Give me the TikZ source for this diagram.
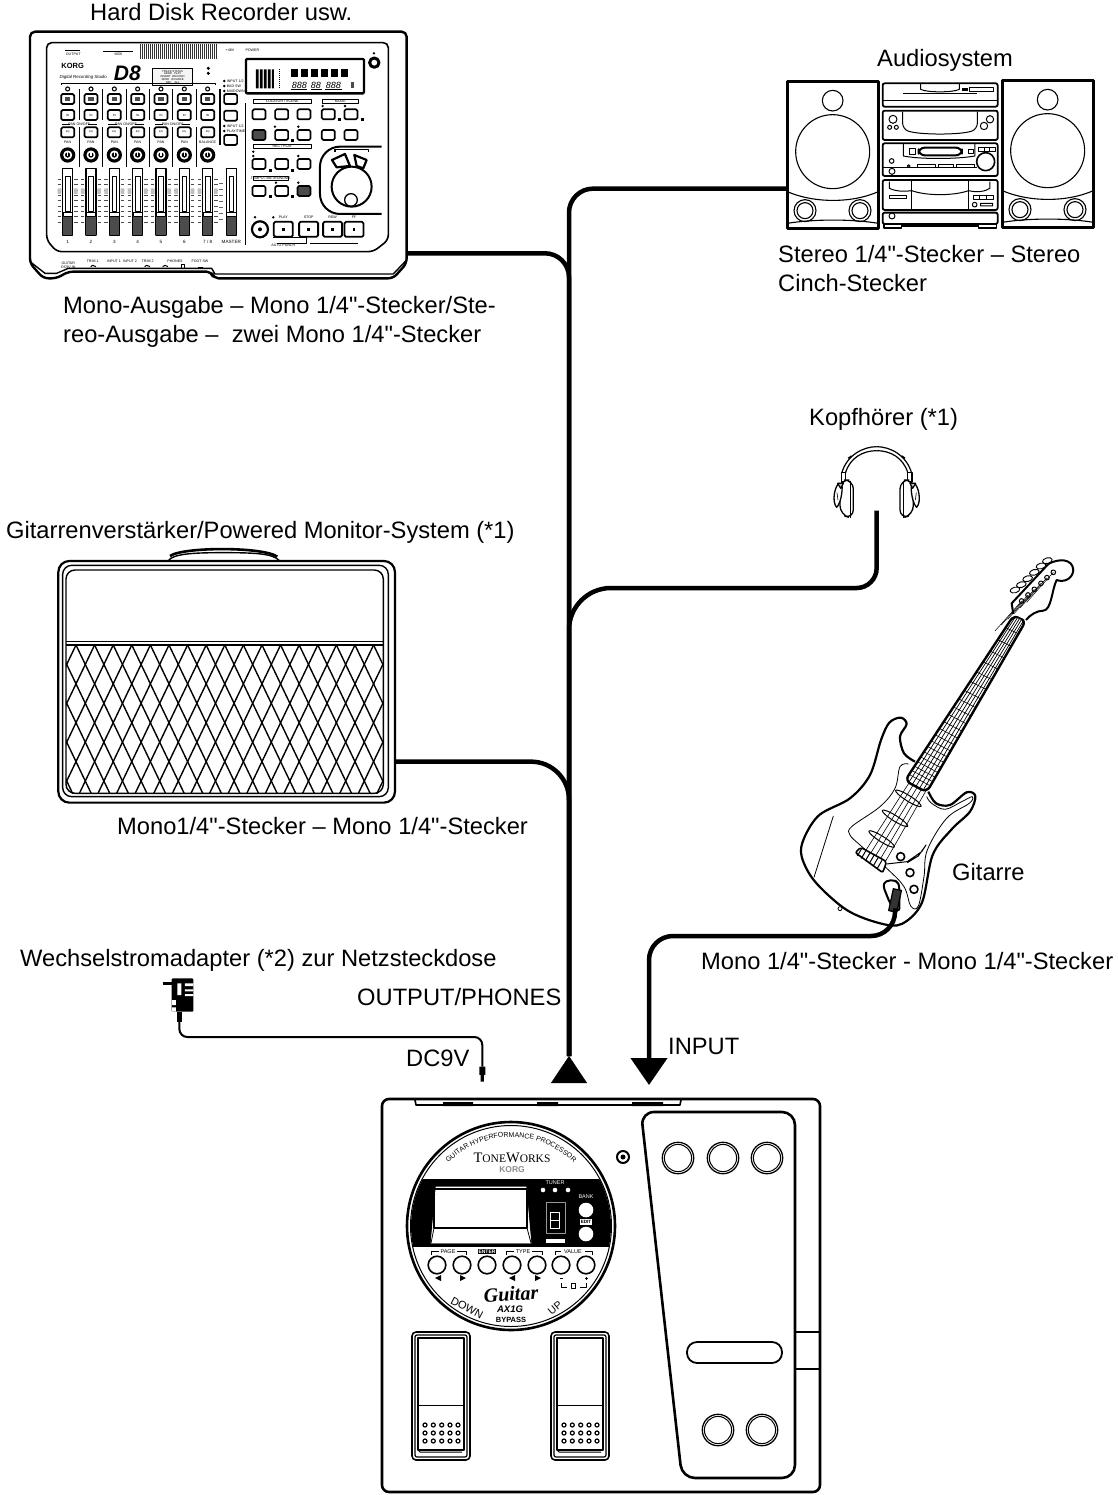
\documentclass[tikz,border=0pt]{standalone}
\usepackage{fontspec}
\setmainfont{Liberation Sans}[Ligatures=TeXOff]
\newfontfamily\timesface{Liberation Serif}
\usepackage{tikz}
\usetikzlibrary{calc}
\usetikzlibrary{positioning}
\usetikzlibrary{arrows.meta}
\usetikzlibrary{decorations.text}
\newcommand{\pts}[1]{\fontsize{#1}{#1}\selectfont}
\begin{document}
\begin{tikzpicture}[x=1pt, y=-1pt, line join=round, font=\fontsize{23.7}{29}\selectfont]
	\tikzstyle{lbl}=[anchor=base west, inner sep=0pt]
	\tikzstyle{cable}=[line width=4.5pt, rounded corners=24pt]
	\tikzstyle{thincable}=[line width=2pt, rounded corners=8pt]
	\tikzstyle{zoomed}=[x=0.3333pt, y=-0.3333pt]
	\tikzstyle{mini}=[inner sep=0pt, font=\pts{3.6}]
	\tikzstyle{key}=[draw, line width=1.7pt, fill=white, rounded corners=1.5pt, minimum width=13pt, minimum height=10pt, inner sep=0pt]
	\tikzstyle{darkkey}=[key, fill=black!70]
	\useasboundingbox (0,0) rectangle (1117,1495);

	% recorder
	\begin{scope}[shift={(20,20)}, zoomed]
		\draw[line width=2.4pt, rounded corners=5pt] (30,730) -- (30,35) -- (1160,35) -- (1160,730) -- (1120,775) -- (580,775) -- (575,755) -- (145,755) -- (110,775) -- (70,775) -- cycle;
		\draw[line width=1.4pt] (30,700) -- (30,725) -- (75,760) -- (110,760) -- (145,745) -- (575,745) -- (585,762) -- (1120,762) -- (1160,720);
		\draw[line width=1.6pt, rounded corners=5pt] (80,68) -- (1105,68) -- (1105,660) -- (1060,695) -- (110,695) -- (80,660) -- cycle;
		\foreach \x in {362,368,...,590}
			\draw[line width=0.9pt, black!80] (\x,72) -- (\x,118);
		\draw[line width=0.6pt] (135,92) -- (180,92) (250,93) -- (340,93);
		\node[mini] (outLbl) at (160,104) {OUTPUT};
		\node[mini] (midiLbl) at (295,104) {MIDI};
		\node[mini] (phantomLbl) at (630,90) {+48V};
		\node[mini] (powerLbl) at (697,90) {POWER};
		\node[inner sep=0pt, font=\pts{7.5}\bfseries] (korgLbl) at (158,137) {KORG};
		\node[inner sep=0pt, font=\pts{4.4}\itshape] (studioLbl) at (190,172) {Digital Recording Studio};
		\node[inner sep=0pt, font=\pts{21}\bfseries\itshape] (modelLbl) at (322,160) {D8};
		\draw[line width=0.5pt, fill=black!4] (398,145) rectangle (518,195);
		\node[inner sep=0pt, align=center, font=\pts{2.8}] (statusLbl) at (458,170) {TRACK STATUS\\ ADDR \ \ PLAY\\ INSERT \ RECORD\\ SEND \ \ BOUNCE\\ OFF \ \ \ ALL};
		\fill (565,145) circle (5) (565,160) circle (5);
		\draw[line width=0.5pt] (125,195) -- (125,190) -- (585,190) -- (585,195);
		\draw[line width=3pt, fill=white] (1063,128) circle (14);
		\fill (1062,100) circle (4);

		\foreach \i/\cx/\lab/\knob in {1/143/1/PAN, 2/213/2/PAN, 3/283/3/PAN, 4/353/4/PAN, 5/423/5/PAN, 6/493/6/PAN, 7/563/{7 / 8}/BALANCE} {
			\draw[line width=1.1pt] (\cx,207) circle (6);
			\node[key] (chA\i) at (\cx,237) {};
			\fill[black!70] ($(\cx,237)+(-8,-7)$) rectangle ($(\cx,237)+(8,7)$);
			\node[key] (chB\i) at (\cx,285) {\pts{3}IN};
			\node[key] (chC\i) at (\cx,337) {\pts{2.6}EQ};
			\node[mini] (knobLbl\i) at (\cx,367) {\knob};
			\fill (\cx,405) circle (23);
			\draw[white, line width=1.6pt] (\cx,405) circle (11);
			\draw[white, line width=1.4pt] (\cx,393) -- (\cx,407);
			\draw[line width=1.1pt, fill=white] (\cx-15,445) rectangle (\cx+15,645);
			\draw[line width=0.7pt] (\cx-7,468) rectangle (\cx+7,575);
			\fill[black!70] (\cx-14,590) rectangle (\cx+14,645);
			\draw[line width=0.9pt, fill=white] (\cx-14,578) rectangle (\cx+14,590);
			\foreach \y in {478,494,...,610}
				\draw[line width=0.8pt, black!70] (\cx-30,\y) -- (\cx-20,\y) (\cx+20,\y) -- (\cx+30,\y);
			\fill[black!25] (\cx-30,505) rectangle (\cx-19,522) (\cx+19,505) rectangle (\cx+30,522);
			\node[inner sep=0pt, font=\pts{4.6}] (chNum\i) at (\cx,665) {\lab};
		}
		\foreach \x in {178,248,318,388,458,528} {
			\draw[line width=0.9pt] (\x,208) -- (\x,300);
			\draw[line width=0.9pt] (\x,322) -- (\x,440);
		}
		\foreach \x/\tag in {178/a, 318/b, 458/c}
			\node[mini, fill=white, inner xsep=1pt] (panLbl\tag) at (\x,313) {PAN ON/OFF};
		\draw[line width=0.5pt] (125,313) -- (150,313) (205,313) -- (232,313) (265,313) -- (290,313) (345,313) -- (372,313) (405,313) -- (430,313) (485,313) -- (510,313);

		\draw[line width=1.1pt, fill=white] (619,445) rectangle (649,645);
		\draw[line width=0.7pt] (627,468) rectangle (641,575);
		\fill[black!70] (620,590) rectangle (648,645);
		\draw[line width=0.9pt, fill=white] (620,578) rectangle (648,590);
		\node[inner sep=0pt, font=\pts{4.6}] (masterLbl) at (634,665) {MASTER};
		\foreach \y in {490,508,...,610}
			\draw[line width=0.8pt, black!60] (597,\y) -- (608,\y);
		\draw[line width=1.2pt] (600,208) -- (600,375) (677,250) -- (677,675);

		\node[key] (recA) at (632,237) {};
		\node[key] (recB) at (632,287) {};
		\node[key] (recC) at (632,360) {};
		\fill (613,183) circle (4) (613,198) circle (4) (613,213) circle (4) (613,318) circle (4) (613,333) circle (4);
		\node[mini, anchor=west] (assA) at (620,183) {INPUT 1/2};
		\node[mini, anchor=west] (assB) at (620,198) {BAD SW};
		\node[mini, anchor=west] (assC) at (620,213) {MIXDOWN};
		\node[mini, anchor=west] (assD) at (620,318) {INPUT 1/2};
		\node[mini, anchor=west] (assE) at (620,333) {PLAY/TIME};

		\draw[line width=2.4pt, rounded corners=1pt] (678,117) rectangle (1032,220);
		\fill (708,148) rectangle (716,205) (720,148) rectangle (728,205) (732,148) rectangle (740,205) (744,148) rectangle (752,205) (756,148) rectangle (762,205);
		\foreach \x in {812,842,872,902,932,962}
			\fill (\x,148) rectangle (\x+22,170);
		\draw[densely dotted, line width=1pt] (778,148) -- (778,205);
		\node[inner sep=0pt, font=\pts{9}\itshape] (lcdA) at (838,195) {888};
		\node[inner sep=0pt, font=\pts{9}\itshape] (lcdB) at (888,195) {88};
		\node[inner sep=0pt, font=\pts{9}\itshape] (lcdC) at (940,195) {888};
		\draw[line width=0.6pt] (812,207) -- (862,207) (872,207) -- (905,207) (915,207) -- (965,207);
		\fill[black!70] (992,185) rectangle (1002,205);

		\draw[line width=0.5pt] (700,238) rectangle (875,250) (908,238) rectangle (1015,250) (700,372) rectangle (875,385) (700,468) rectangle (805,482);
		\node[mini] (locLbl) at (787,244) {LOCATOR / SCENE};
		\node[mini] (modeLbl) at (961,244) {MODE};
		\node[mini] (recplayLbl) at (787,379) {REC / PLAY};
		\node[mini] (tempoLbl) at (752,475) {TEMPO / METRONOME};
		\foreach \n/\x/\y in {a/717/283, b/785/283, c/852/283, d/925/283, e/993/283, f/785/345, g/852/345, h/925/345, i/993/345, j/717/432, k/785/432, l/852/432, m/717/513, n/785/513}
			\node[key] (pad\n) at (\x,\y) {};
		\node[darkkey] (padO) at (717,345) {};
		\node[darkkey] (padP) at (852,513) {};
		\foreach \x/\y in {955/295, 1022/295, 812/358, 812/446, 747/446, 747/525, 812/525}
			\fill (\x,\y) rectangle (\x+9,\y+9);
		\foreach \x/\y in {908/258, 975/258, 765/320, 835/320, 835/408, 768/488, 835/488, 700/395, 700/408}
			\fill (\x,\y) circle (4);

		\draw[line width=2pt, rounded corners=20pt] (1085,380) -- (900,380) -- (900,582) -- (1085,582);
		\draw[line width=1.1pt] (945,395) -- (945,388) -- (1045,388) -- (1045,395);
		\draw[line width=2.2pt, fill=white] (936,420) -- (975,402) -- (990,438) -- (950,442) -- cycle;
		\draw[line width=2.2pt, fill=white] (1003,405) -- (1040,420) -- (1030,445) -- (1010,438) -- cycle;
		\draw[line width=2pt] (995,500) circle (60);
		\draw[line width=1.3pt] (993,540) circle (19);

		\draw[line width=2.2pt] (720,628) circle (24);
		\fill (720,628) circle (6);
		\fill (705,592) circle (4) (760,592) circle (4);
		\foreach \n/\x/\y/\t in {t/790/628/PLAY, u/866/628/STOP, v/938/628/REW, w/1002/628/FF} {
			\node[key, minimum width=19pt, minimum height=15pt, line width=1.8pt] (trans\n) at (\x,\y) {};
			\node[mini] (transLbl\n) at (\x,592) {\t};
			\fill (\x-4,\y-4) rectangle (\x+4,\y+4);
		}
		\draw[line width=0.5pt] (760,652) -- (860,652) -- (860,670) -- (770,670) (870,670) -- (1015,670);
		\node[mini] (lblAuto) at (790,675) {AUTO PUNCH};

		\node[mini, align=center] (inA) at (145,735) {GUITAR\\ DC9V IN};
		\foreach \n/\x/\t in {a/218/TRIM 1, b/282/INPUT 1, c/330/INPUT 2, d/383/TRIM 2, e/465/PHONES, f/540/FOOT SW}
			\node[mini] (jack\n) at (\x,724) {\t};
		\draw[line width=1pt] (212,740) -- (218,736) -- (228,740) (374,740) -- (380,736) -- (390,740) (428,740) -- (435,736) -- (444,740);
		\draw[line width=0.7pt] (485,745) -- (485,734) -- (494,734) -- (494,745) (535,742) -- (550,742);
		\coordinate (recPort) at (1160,700);
	\end{scope}

	% audio system
	\begin{scope}[shift={(770,70)}, zoomed]
		\foreach \sx/\sy in {52/35, 697/32} {
			\begin{scope}[shift={(\sx,\sy)}]
				\draw[line width=2.6pt] (0,0) rectangle (273,440);
				\draw[line width=1.1pt] (136,57) circle (31);
				\draw[line width=1.1pt] (136,210) circle (111);
				\draw[line width=1.1pt] (0,330) .. controls (80,365) and (195,365) .. (273,330);
				\draw[line width=1.1pt] (0,425) .. controls (80,412) and (195,412) .. (273,425);
				\draw[line width=1.1pt] (53,387) circle (33) (53,387) circle (24);
				\draw[line width=1.1pt] (218,387) circle (33) (218,387) circle (24);
			\end{scope}
		}
		\coordinate (audioPort) at (52,356);
		\draw[line width=1.8pt, rounded corners=2pt] (338,40) rectangle (683,110);
		\draw[line width=1pt] (452,40) -- (452,58) .. controls (470,68) and (550,68) .. (568,58) -- (568,40);
		\draw[line width=1pt] (338,92) -- (683,92) (398,72) -- (622,72);
		\draw[line width=1pt] (598,52) rectangle (670,66);
		\fill (575,55) rectangle (593,64);
		\draw[line width=1.8pt, rounded corners=2pt] (338,122) rectangle (683,210);
		\draw[line width=1pt, rounded corners=6pt] (398,125) -- (398,178) .. controls (450,195) and (570,195) .. (622,178) -- (622,125);
		\draw[line width=1pt] (369,148) circle (12) (359,172) circle (6) (379,172) circle (6) (660,148) circle (11) (642,168) circle (11);
		\draw[line width=1.8pt, rounded corners=2pt] (338,220) rectangle (683,318);
		\draw[line width=1pt] (400,222) -- (400,258) .. controls (450,268) and (560,268) .. (615,258) -- (615,222);
		\draw[line width=1pt] (418,236) rectangle (436,254);
		\draw[line width=2pt, rounded corners=6pt] (446,233) rectangle (576,256);
		\draw[line width=1pt] (595,238) rectangle (610,250);
		\draw[line width=1pt] (626,232) rectangle (676,245);
		\draw[line width=1pt] (643,232) -- (643,245) (660,232) -- (660,245);
		\draw[line width=1.6pt, fill=white] (647,275) circle (27);
		\draw[line width=1pt] (365,273) circle (7) (366,304) circle (9);
		\draw[line width=1pt] (338,294) -- (620,294);
		\draw[line width=1pt] (444,283) rectangle (496,293) (506,283) rectangle (550,293) (560,283) rectangle (614,293);
		\draw[line width=1pt] (416,288) circle (4);
		\draw[line width=1.8pt, rounded corners=2pt] (338,330) rectangle (683,420);
		\draw[line width=1pt] (425,332) -- (425,418) (596,332) -- (596,418);
		\draw[line width=1pt] (358,335) -- (358,355) .. controls (380,365) and (400,365) .. (425,362);
		\draw[line width=1pt] (425,362) .. controls (470,378) and (550,378) .. (596,362) (596,362) .. controls (620,368) and (645,365) .. (660,355) -- (660,335);
		\draw[line width=1pt] (358,378) rectangle (410,385);
		\draw[line width=1pt] (610,378) rectangle (670,390) (630,378) -- (630,390) (650,378) -- (650,390);
		\draw[line width=1pt] (614,404) circle (7) (632,400) rectangle (668,408);
		\draw[line width=1.8pt, rounded corners=2pt] (338,428) rectangle (683,462);
		\draw[line width=1pt] (366,438) circle (9);
		\draw[line width=1.4pt] (342,462) -- (342,474) -- (395,474) -- (395,462) (395,468) -- (625,468) (625,462) -- (625,474) -- (680,474) -- (680,462);
	\end{scope}

	% headphones
	\begin{scope}[shift={(800,420)}, zoomed]
		\foreach \s in {1,-1} {
			\begin{scope}[shift={(230,0)}, xscale=\s]
				\draw[line width=1.2pt] (-105,160) .. controls (-90,105) and (-40,80) .. (0,80);
				\draw[line width=1.2pt] (-94,160) .. controls (-80,112) and (-40,92) .. (0,92);
				\draw[line width=1.6pt] (-85,115) -- (-75,108);
				\draw[line width=1.2pt, fill=white] (-106,158) rectangle (-93,186);
				\draw[line width=1.3pt, fill=white, rounded corners=9pt] (-110,180) -- (-70,180) -- (-70,296) -- (-110,284) -- cycle;
				\draw[line width=1pt] (-80,182) -- (-80,294);
				\draw[line width=1.3pt, fill=white] (-112,190) .. controls (-125,195) and (-136,245) .. (-120,262) .. controls (-108,250) and (-102,215) .. (-104,195) -- cycle;
				\draw[line width=1.2pt, fill=black!25] (-117,190) -- (-100,190) -- (-108,205) -- cycle;
				\draw[line width=0.6pt] (-119,218) -- (-116,240);
			\end{scope}
		}
		\coordinate (phonesPort) at (230,272);
	\end{scope}

	% amp
	\begin{scope}[shift={(40,530)}, zoomed]
		\draw[line width=1.4pt] (385,92) .. controls (400,70) and (470,68) .. (550,68) .. controls (640,68) and (700,70) .. (718,92);
		\draw[line width=2.6pt] (390,78) .. controls (430,50) and (670,50) .. (712,80);
		\draw[line width=2.2pt, rounded corners=11pt] (55,93) rectangle (1065,818);
		\draw[line width=1.4pt, rounded corners=9pt] (68,106) rectangle (1045,800);
		\draw[line width=1.4pt, rounded corners=9pt] (78,120) rectangle (1030,790);
		\draw[line width=1.6pt] (78,334) -- (1030,334) (78,345) -- (1030,345);
		\begin{scope}
			\clip (78,346) rectangle (1030,790);
			\foreach \k in {-10,...,20} {
				\draw[line width=1.4pt] ({108+55.8*\k},345) -- ({108+55.8*\k+222},{345+464});
				\draw[line width=1.4pt] ({108+55.8*\k},345) -- ({108+55.8*\k-222},{345+464});
			}
		\end{scope}
		\coordinate (ampPort) at (1065,695);
	\end{scope}

	% guitar
	\begin{scope}[shift={(780,540)}, zoomed]
		\coordinate (neckA) at (375,722);
		\coordinate (neckB) at (440,757);
		\coordinate (nutA) at (702,225);
		\coordinate (nutB) at (738,242);
		\coordinate (bridgeA) at (238,930);
		\coordinate (bridgeB) at (312,972);
		\draw[line width=2.2pt, fill=white] plot[smooth, tension=0.55] coordinates {(405,665) (372,640) (360,590) (380,552) (362,533) (328,548) (303,600) (270,705) (210,775) (118,825) (72,895) (65,950) (105,1025) (200,1110) (300,1150) (365,1152) (425,1090) (458,945) (515,868) (570,815) (586,768) (560,757) (510,795) (468,790) (445,755)};
		\draw[line width=0.8pt] plot[smooth, tension=0.6] coordinates {(385,672) (360,680) (345,745) (300,800) (215,860) (210,885) (240,915) (320,985) (372,1040) (392,1098) (415,1098) (432,1010) (442,930) (500,835) (568,790) (577,770) (545,785) (495,808) (455,790) (440,770)};
		\draw[line width=0.8pt] (160,828) -- (102,1012);
		\draw[line width=1pt] (320,972) -- (382,965) -- (425,935) -- (438,915) -- (415,948) -- (382,968);
		\draw[line width=1pt, rotate around={-32:(385,775)}, fill=white] (385,775) ellipse (15pt and 2.8pt);
		\draw[line width=1pt, rotate around={-32:(345,835)}, fill=white] (345,835) ellipse (15pt and 2.8pt);
		\draw[line width=1pt, rotate around={-32:(305,897)}, fill=white] (305,897) ellipse (15pt and 2.8pt);
		\foreach \n in {1,...,5}
			\draw[line width=0.6pt] ($(bridgeA)!{\n/5}!(bridgeB)$) -- ($(nutA)!{\n/6}!(nutB)$);
		\draw[line width=1.6pt, fill=white, rounded corners=2pt] (226,938) -- (242,922) -- (320,965) -- (308,998) -- cycle;
		\foreach \n in {0,...,5}
			\draw[line width=1pt] ($(232,948)!{\n/5}!(292,985)$) -- ++(14,-24);
		\draw[line width=1.6pt] (362,950) circle (12) (390,998) circle (12) (402,1048) circle (12);
		\draw[line width=2pt, fill=white, rounded corners=3pt] (310,1040) .. controls (315,1020) and (350,1015) .. (358,1040) -- (358,1115) -- (330,1090) -- cycle;
		\draw[line width=1.2pt, fill=black!80, rotate around={-12:(345,1080)}] (333,1048) rectangle (358,1115);
		\draw[line width=0.8pt, fill=white] (180,1106) circle (6);
		\draw[line width=2.4pt, fill=white, rounded corners=6pt] (nutA) -- (neckA) -- (neckB) -- (nutB) -- cycle;
		\foreach \n in {1,...,21} {
			\pgfmathsetmacro{\t}{1-(1-pow(2,-\n/12))/0.73}
			\draw[line width=0.6pt] ($(neckA)!\t!(nutA)$) -- ($(neckB)!\t!(nutB)$);
		}
		\foreach \n in {1,...,5}
			\draw[line width=0.7pt] ($(neckA)!{\n/6}!(neckB)$) -- ($(nutA)!{\n/6}!(nutB)$);
		\draw[line width=2pt, fill=white] (700,222) -- (695,190) -- (805,72) .. controls (835,55) and (878,55) .. (880,90) .. controls (878,118) and (850,128) .. (830,120) .. controls (815,150) and (815,210) .. (790,212) .. controls (770,212) and (750,225) .. (738,240);
		\foreach \x/\y in {705/150, 724/134, 743/116, 763/97, 783/78, 802/62}
			\draw[line width=0.9pt, fill=white, rotate around={15:(\x,\y)}] (\x,\y) ellipse (5pt and 2.8pt);
		\foreach \x/\y in {725/183, 744/165, 763/148, 783/130, 801/113, 820/97} {
			\draw[line width=1pt, fill=white] (\x,\y) circle (7);
			\draw[line width=0.5pt] (\x,\y) -- (\x-80,\y+90);
		}
		\coordinate (guitarPort) at (345,1105);
	\end{scope}

	% adapter
	\begin{scope}[shift={(140,960)}, zoomed]
		\fill[rounded corners=1pt] (95,55) rectangle (160,155);
		\fill (112,155) rectangle (125,185);
		\draw[line width=1.6pt] (68,68) -- (95,68);
		\draw[line width=1.4pt] (68,72) -- (95,72);
		\fill[white] (112,70) rectangle (124,105) (135,70) rectangle (160,78) (135,88) rectangle (160,94) (135,102) rectangle (160,108) (96,120) rectangle (108,135) (96,142) rectangle (108,155);
		\coordinate (adapterPort) at (118,185);
		\coordinate (plugTop) at (1027,320);
		\fill (1018,320) rectangle (1036,345) (1022,345) rectangle (1032,365);
	\end{scope}

	% processor
	\draw[line width=2.6pt, rounded corners=7pt] (382,1099) rectangle (820,1492);
	\draw[line width=1.6pt] (415,1100) -- (416,1105) -- (680,1105) -- (681,1100);
	\fill (443,1102) rectangle (473,1106) (537,1102) rectangle (558,1106) (632,1102) rectangle (663,1106);
	\draw[line width=2.6pt, rounded corners=13pt] (641,1112) -- (795,1112) -- (795,1478) -- (682,1478) -- cycle;
	\foreach \x/\y in {678/1158, 723/1158, 767/1158, 718/1430, 762/1430} {
		\draw[line width=1.3pt] (\x,\y) circle (15.7);
		\draw[line width=1pt] (\x,\y) circle (13.6);
	}
	\draw[line width=1.8pt, rounded corners=10pt] (687,1342) rectangle (782,1363);
	\draw[line width=1.4pt] (795,1332) -- (820,1332) (795,1369) -- (820,1369);
	\draw[line width=2pt, fill=white] (623,1157) circle (6);
	\fill (623,1157) circle (2.5);

	\draw[line width=2.6pt] (511,1226) circle (104);
	\draw[line width=1pt] (511,1226) circle (100.5);
	\begin{scope}
		\clip (511,1226) circle (100);
		\fill (400,1179) rectangle (620,1247);
	\end{scope}
	\path[decorate, decoration={text along path, text align=center, text={|\fontsize{7}{7}\selectfont|GUITAR HYPERFORMANCE PROCESSOR}}] plot[domain=150:30, samples=40] ({511+89*cos(\x)},{1226-89*sin(\x)});
	\node[inner sep=0pt, font=\timesface\fontsize{14.5}{14.5}\selectfont] (toneLbl) at (512,1158) {T\fontsize{11.5}{11.5}\selectfont ONE\fontsize{14.5}{14.5}\selectfont W\fontsize{11.5}{11.5}\selectfont ORKS};
	\node[inner sep=0pt, font=\bfseries\fontsize{8.5}{8.5}\selectfont, text=black!45] (korgMark) at (512,1170) {KORG};

	\draw[white, fill=white, line width=0.6pt] (436,1187) -- (526,1187) -- (531,1243) -- (431,1243) -- cycle;
	\draw[line width=1.2pt] (434,1189) rectangle (527,1228);
	\draw[line width=0.8pt] (434,1228) -- (431,1243) (527,1228) -- (531,1243);
	\node[inner sep=0pt, text=white, font=\fontsize{5.5}{5.5}\selectfont] (tunerLbl) at (555,1183) {TUNER};
	\fill[white] (543,1190) circle (2.3) (555,1190) circle (2.3) (568,1190) circle (2.3);
	\draw[black!40, line width=0.5pt] (546,1202) rectangle (565,1233);
	\draw[white, line width=1pt] (550,1212) rectangle (559,1220) (550,1220) rectangle (559,1228);
	\fill[white] (546,1239) rectangle (565,1243);
	\node[inner sep=0pt, text=white, font=\fontsize{5.5}{5.5}\selectfont] (bankLbl) at (586,1197) {BANK};
	\node[inner sep=1pt, fill=white, font=\bfseries\fontsize{4.6}{4.6}\selectfont] (editLbl) at (586,1222) {EDIT};
	\fill[white] (586,1210) circle (7.3) (586,1234) circle (7.3);

	\foreach \n/\x/\t in {a/448/PAGE, b/523/TYPE, c/573/VALUE}
		\node[inner sep=1pt, font=\fontsize{5.5}{5.5}\selectfont] (bracket\n) at (\x,1251.5) {\t};
	\draw[line width=0.9pt] (431,1255) -- (431,1251.5) -- (439,1251.5) (457,1251.5) -- (466,1251.5) -- (466,1255);
	\draw[line width=0.9pt] (506,1255) -- (506,1251.5) -- (514,1251.5) (532,1251.5) -- (542,1251.5) -- (542,1255);
	\draw[line width=0.9pt] (555,1255) -- (555,1251.5) -- (561,1251.5) (585,1251.5) -- (592,1251.5) -- (592,1255);
	\node[fill=black, text=white, inner sep=0.8pt, font=\bfseries\fontsize{5}{5}\selectfont] (enterLbl) at (487,1251.5) {ENTER};
	\foreach \x in {437,462,487,512,537,561,586}
		\draw[line width=1.6pt] (\x,1265) circle (8.8);
	\fill (441,1275) -- (441,1281) -- (435,1278) -- cycle (460,1275) -- (460,1281) -- (466,1278) -- cycle (515,1275) -- (515,1281) -- (509,1278) -- cycle (535,1275) -- (535,1281) -- (541,1278) -- cycle;
	\draw[line width=1pt] (560,1278) -- (563,1278) (585,1278) -- (588,1278) (586.5,1276.5) -- (586.5,1279.5);
	\draw[line width=0.9pt] (561,1283) -- (561,1287) -- (567,1287) (580,1287) -- (586,1287) -- (586,1283);
	\draw[line width=0.6pt] (571.5,1283) rectangle (575.5,1288);
	\node[inner sep=0pt, font=\timesface\bfseries\itshape\fontsize{20}{20}\selectfont, rotate=3] (guitarLogo) at (511,1294) {Guitar};
	\node[inner sep=0pt, font=\bfseries\itshape\fontsize{9.5}{9.5}\selectfont] (modelMark) at (510,1309) {AX1G};
	\node[inner sep=0pt, font=\bfseries\fontsize{7.5}{7.5}\selectfont] (bypassLbl) at (511,1319.5) {BYPASS};
	\node[inner sep=0pt, font=\fontsize{11}{11}\selectfont, rotate=-28] (downLbl) at (467,1308) {DOWN};
	\node[inner sep=0pt, font=\fontsize{10.5}{10.5}\selectfont, rotate=40] (upLbl) at (555,1308) {UP};

	\foreach \sx in {412,551} {
		\begin{scope}[shift={(\sx,1332)}]
			\draw[line width=1.6pt, rounded corners=4pt] (0,0) rectangle (58,128);
			\draw[line width=1.2pt, rounded corners=2pt] (3,3) rectangle (55,125);
			\draw[line width=2.4pt] (6,6) -- (52,6) -- (52,118) -- (6,118) -- cycle;
			\draw[line width=1pt] (6,73) -- (52,73);
			\draw[line width=1pt] (6,118) -- (8,120) -- (50,120);
			\foreach \cx in {13,21.3,29.7,38,46}
				\foreach \cy in {93,101,109}
					\draw[line width=1.2pt] (\cx,\cy) circle (2);
		\end{scope}
	}

	% cables
	\coordinate (trunkEnd) at (569,1056);
	\coordinate (phonesBend) at (720,588);
	\coordinate (inBend) at (760,936);
	\coordinate (inTip) at (649,1085);
	\coordinate (outTail) at (569,1082);
	\coordinate (dcBend) at (330,1037);
	\draw[cable] (audioPort) -| (trunkEnd);
	\draw[cable] (recPort) -| (trunkEnd);
	\draw[cable, rounded corners=38pt] (ampPort) -| (trunkEnd);
	\draw[cable, rounded corners=20pt] (phonesPort) |- (phonesBend) [rounded corners=42pt] -| (trunkEnd);
	\draw[cable, -{Triangle[width=36pt, length=27pt]}] (guitarPort) |- (inBend) -| (inTip);
	\draw[line width=0.5pt, -{Triangle[width=36pt, length=27pt]}] (outTail) -- (trunkEnd);
	\draw[thincable] (adapterPort) |- (dcBend) -| (plugTop);

	% labels
	\node[lbl] (recLbl) at (90,21) {Hard Disk Recorder usw.};
	\node[lbl] (audioLbl) at (877,67) {Audiosystem};
	\node[lbl] (audioCableA) at (778,263) {Stereo 1/4"-Stecker – Stereo};
	\node[lbl] (audioCableB) at (778,292) {Cinch-Stecker};
	\node[lbl] (recCableA) at (63,313) {Mono-Ausgabe – Mono 1/4"-Stecker/Ste-};
	\node[lbl] (recCableB) at (63,342) {reo-Ausgabe – \ zwei Mono 1/4"-Stecker};
	\node[lbl] (phonesLbl) at (809,425) {Kopfhörer (*1)};
	\node[lbl] (ampLbl) at (6,538) {Gitarrenverstärker/Powered Monitor-System (*1)};
	\node[lbl] (ampCable) at (117,834) {Mono1/4"-Stecker – Mono 1/4"-Stecker};
	\node[lbl] (guitarLbl) at (952,880) {Gitarre};
	\node[lbl] (guitarCable) at (701,969) {Mono 1/4"-Stecker - Mono 1/4"-Stecker};
	\node[lbl] (adapterLbl) at (20,966) {Wechselstromadapter (*2) zur Netzsteckdose};
	\node[lbl] (outLabel) at (357,1005) {OUTPUT/PHONES};
	\node[lbl] (dcLbl) at (406,1066) {DC9V};
	\node[lbl] (inLbl) at (668,1054) {INPUT};
\end{tikzpicture}
\end{document}
